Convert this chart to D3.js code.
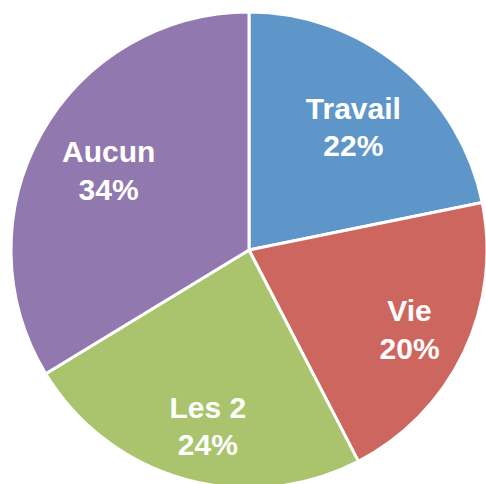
<!DOCTYPE html>
<html>
<head>
<meta charset="utf-8">
<script src="https://cdn.jsdelivr.net/npm/d3@7"></script>
<style>
  html, body { margin: 0; padding: 0; background: #ffffff; }
  svg { display: block; }
</style>
</head>
<body>
<svg id="chart" width="486" height="484"></svg>
<script>
// ---- data ----
const categories = ["Travail", "Vie", "Les 2", "Aucun"];
const values = [21.8, 20.6, 23.9, 33.7];
const percentLabels = ["22%", "20%", "24%", "34%"];

// ---- styling / layout (not data) ----
const colors = ["#5F96CA", "#CE6660", "#AAC46D", "#9179B0"];
const labelAngleShift = [3.6, 3.7, -3.2, -3.1];   // degrees, from slice middle
const labelDist = [153.5, 184, 191, 156.5];        // px from centre

const W = 486, H = 484;
const cx = 249, cy = 250, R = 238;

const svg = d3.select("#chart");
const g = svg.append("g").attr("transform", `translate(${cx},${cy})`);

const pie = d3.pie().value(d => d).sort(null);
const arcs = pie(values);
const arc = d3.arc().innerRadius(0).outerRadius(R);

g.selectAll("path.slice")
  .data(arcs)
  .join("path")
  .attr("class", "slice")
  .attr("d", arc)
  .attr("fill", (d, i) => colors[i])
  .attr("stroke", "#ffffff")
  .attr("stroke-width", 3)
  .attr("stroke-linejoin", "round");

const labels = g.selectAll("g.lbl")
  .data(arcs)
  .join("g")
  .attr("class", "lbl")
  .attr("transform", (d, i) => {
    const mid = (d.startAngle + d.endAngle) / 2 + labelAngleShift[i] * Math.PI / 180;
    const x = Math.sin(mid) * labelDist[i];
    const y = -Math.cos(mid) * labelDist[i];
    return `translate(${x},${y})`;
  });

labels.append("text")
  .attr("text-anchor", "middle")
  .attr("y", -18.75)
  .attr("font-family", "Liberation Sans, Arial, sans-serif")
  .attr("font-weight", "bold")
  .attr("font-size", 30)
  .attr("fill", "#ffffff")
  .text((d, i) => categories[i]);

labels.append("text")
  .attr("text-anchor", "middle")
  .attr("y", 18.75)
  .attr("font-family", "Liberation Sans, Arial, sans-serif")
  .attr("font-weight", "bold")
  .attr("font-size", 30)
  .attr("fill", "#ffffff")
  .text((d, i) => percentLabels[i]);
</script>
</body>
</html>
